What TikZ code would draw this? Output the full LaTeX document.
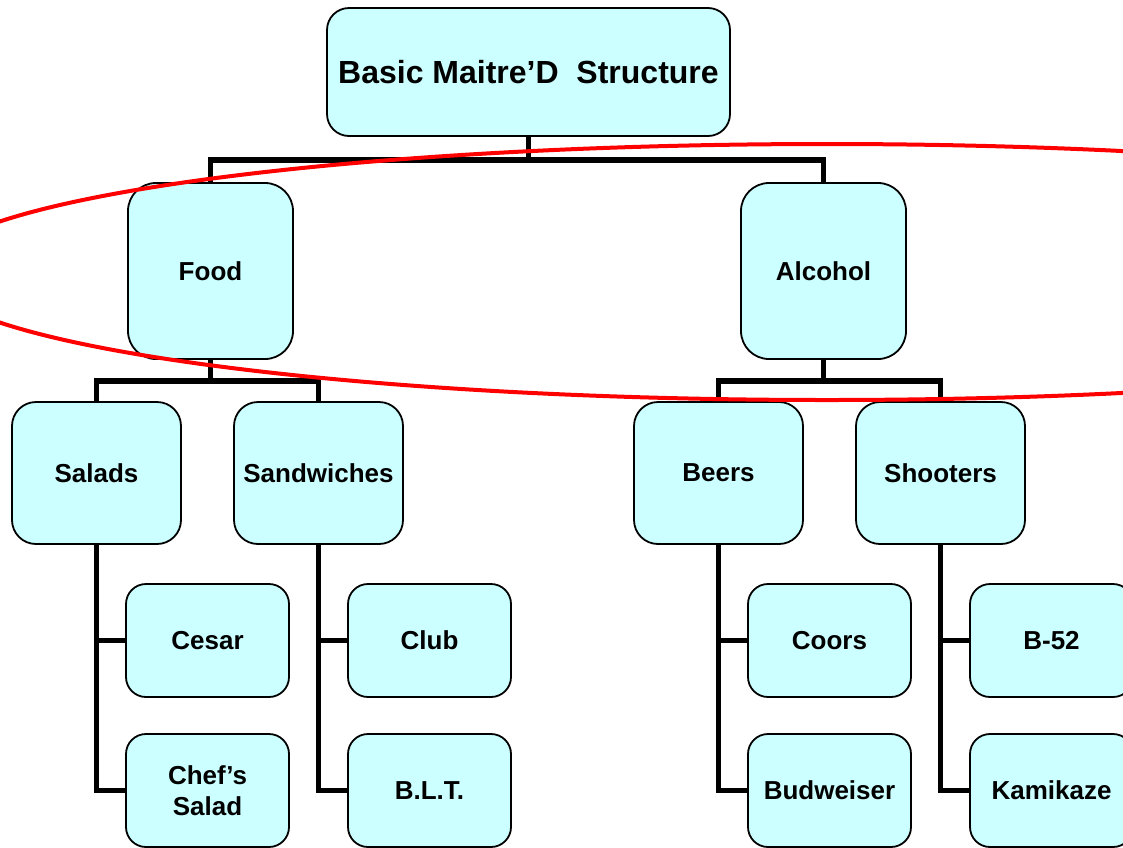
\documentclass[tikz,border=0pt]{standalone}
\usepackage{fontspec}
\setmainfont{Liberation Sans}
\definecolor{boxcyan}{HTML}{CCFFFF}
\tikzset{
  box/.style={draw=black, line width=1.8pt, fill=boxcyan, inner sep=0pt, align=center,
    font=\bfseries\fontsize{26}{31}\selectfont},
  topbox/.style={box, minimum width=403, minimum height=128, rounded corners=22pt,
    font=\bfseries\fontsize{32}{36}\selectfont},
  headbox/.style={box, minimum width=165, minimum height=176, rounded corners=28pt},
  groupbox/.style={box, minimum width=169, minimum height=142, rounded corners=24pt},
  itembox/.style={box, minimum width=163, minimum height=113, rounded corners=20pt},
  link/.style={line width=5.5pt},
  redring/.style={draw=red, line width=4pt}
}

\begin{document}
\begin{tikzpicture}[x=1pt, y=-1pt]
	%%%%% START %%%%%
	\useasboundingbox (0,0) rectangle (1123,847);
	\clip (0,0) rectangle (1123,847);
	
	\node[topbox] (root) at (528.5,72) {Basic Maitre’D\ \ Structure};
	
	\node[headbox] (food) at (210.5,271) {Food};
	\node[headbox] (alcohol) at (823.5,271) {Alcohol};
	
	\node[groupbox] (salads) at (96.5,473) {Salads};
	\node[groupbox] (sandwiches) at (318.5,473) {Sandwiches};
	\node[groupbox] (beers) at (718.5,473) {Beers};
	\node[groupbox] (shooters) at (940.5,473) {Shooters};
	
	\node[itembox] (cesar) at (207.5,640.5) {Cesar};
	\node[itembox] (chefs) at (207.5,790.5) {Chef’s\\Salad};
	\node[itembox] (club) at (429.5,640.5) {Club};
	\node[itembox] (blt) at (429.5,790.5) {B.L.T.};
	\node[itembox] (coors) at (829.5,640.5) {Coors};
	\node[itembox] (budweiser) at (829.5,790.5) {Budweiser};
	\node[itembox] (b52) at (1051.5,640.5) {B-52};
	\node[itembox] (kamikaze) at (1051.5,790.5) {Kamikaze};
	
	% tree links
	\draw[link] (root.south) -- ++(0,23) -| (food.north);
	\draw[link] (root.south) -- ++(0,23) -| (alcohol.north);
	
	\draw[link] (food.south) -- ++(0,21) -| (salads.north);
	\draw[link] (food.south) -- ++(0,21) -| (sandwiches.north);
	\draw[link] (alcohol.south) -- ++(0,21) -| (beers.north);
	\draw[link] (alcohol.south) -- ++(0,21) -| (shooters.north);
	
	\draw[link] (salads.south) |- (cesar.west);
	\draw[link] (salads.south) |- (chefs.west);
	\draw[link] (sandwiches.south) |- (club.west);
	\draw[link] (sandwiches.south) |- (blt.west);
	\draw[link] (beers.south) |- (coors.west);
	\draw[link] (beers.south) |- (budweiser.west);
	\draw[link] (shooters.south) |- (b52.west);
	\draw[link] (shooters.south) |- (kamikaze.west);
	
	% red ring round the top level
	\draw[redring] (827,272) ellipse [x radius=900, y radius=128];
	
	%%%%% END %%%%%
\end{tikzpicture}
\end{document}
